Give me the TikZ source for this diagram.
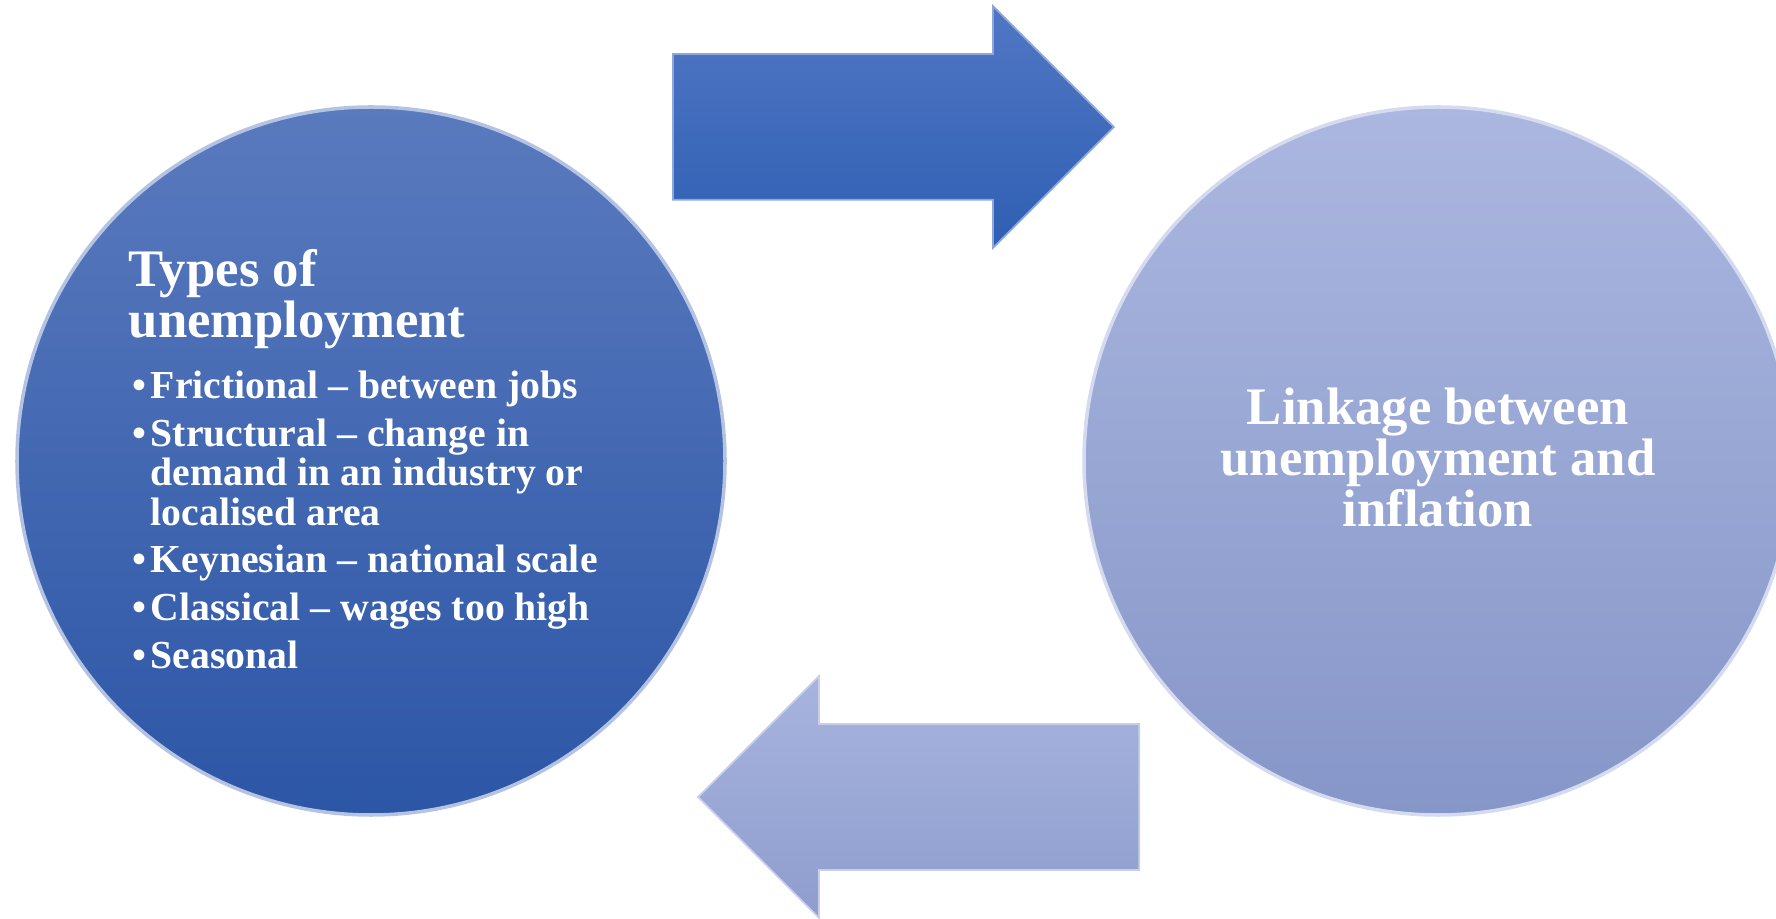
\documentclass[tikz,border=0pt]{standalone}
\usepackage{fontspec}
\setmainfont{Liberation Serif}
\usetikzlibrary{shapes.arrows}

\definecolor{typestop}{RGB}{90,122,190}
\definecolor{typesbot}{RGB}{44,86,166}
\definecolor{linktop}{RGB}{171,183,224}
\definecolor{linkbot}{RGB}{134,150,200}
\definecolor{fwdtop}{RGB}{81,119,196}
\definecolor{fwdbot}{RGB}{47,95,179}
\definecolor{backtop}{RGB}{168,180,223}
\definecolor{backbot}{RGB}{142,157,206}

\begin{document}
\begin{tikzpicture}[
    bigcirc/.style={circle, inner sep=0pt, minimum size=7.08cm, line width=1pt},
    bigarrow/.style={single arrow, single arrow head extend=0.48cm,
        minimum height=4.41cm, inner xsep=0pt, inner ysep=0.72cm,
        anchor=tail, line width=0.5pt},
    whitetext/.style={text=white, inner sep=0pt, font=\bfseries}
]
\useasboundingbox (0,0) rectangle (17.76,9.18);

% the two circles
\node [bigcirc, top color=typestop, bottom color=typesbot,
       draw=white!55!typestop] (types) at (3.71,4.57) {};
\node [bigcirc, top color=linktop, bottom color=linkbot,
       draw=white!50!linktop] (linkage) at (14.38,4.57) {};

% arrows between them
\node [bigarrow, top color=fwdtop, bottom color=fwdbot,
       draw=white!35!fwdtop] (forward) at (6.72,7.91) {};
\node [bigarrow, shape border rotate=180, top color=backtop,
       bottom color=backbot, draw=white!35!backtop] (back) at (11.40,1.21) {};

% text of the right circle
\node [whitetext, align=center, font=\fontsize{15}{14.5}\selectfont\bfseries]
      (linktext) at ([yshift=0.035cm]linkage.center)
      {Linkage between\\ unemployment and\\ inflation};

% text of the left circle
\node [whitetext, anchor=base west, align=left,
       font=\fontsize{15}{14.5}\selectfont\bfseries] (typestitle) at (1.28,5.805)
      {Types of\\ unemployment};
\node [whitetext, anchor=base west,
       font=\fontsize{11.3}{11.1}\selectfont\bfseries] (typeslist) at (1.32,5.19)
      {\begin{tabular}[t]{@{}l@{\hspace{1.2pt}}l@{}}
       \textbullet & Frictional -- between jobs\\[2.4pt]
       \textbullet & Structural -- change in\\
                   & demand in an industry or\\
                   & localised area\\[2.4pt]
       \textbullet & Keynesian -- national scale\\[2.4pt]
       \textbullet & Classical -- wages too high\\[2.4pt]
       \textbullet & Seasonal
       \end{tabular}};
\end{tikzpicture}
\end{document}
